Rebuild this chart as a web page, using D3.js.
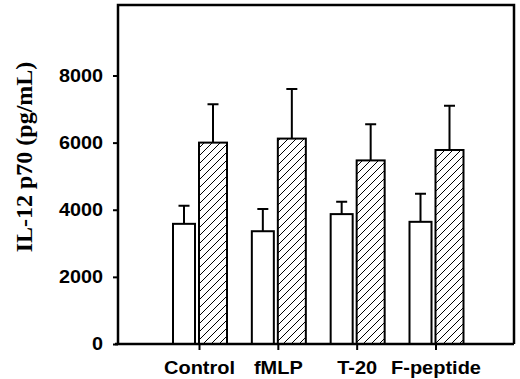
<!DOCTYPE html>
<html>
<head>
<meta charset="utf-8">
<script src="https://cdn.jsdelivr.net/npm/d3@7/dist/d3.min.js"></script>
<style>
  body { margin: 0; background: #fff; }
  svg { display: block; }
  .tick text { font-family: "Liberation Sans", Arial, sans-serif; font-weight: bold; fill: #000; }
</style>
</head>
<body>
<svg width="520" height="379"></svg>
<script>
'use strict';

// values
var categories = ["Control", "fMLP", "T-20", "F-peptide"];
var openValues = [3580, 3360, 3870, 3640];
var openErrors = [4120, 4020, 4240, 4480];
var hatchValues = [6000, 6120, 5470, 5780];
var hatchErrors = [7140, 7600, 6545, 7100];
var yTicks = [0, 2000, 4000, 6000, 8000];
var yLabel = "IL-12 p70 (pg/mL)";

var margin = {top: 5, right: 6, bottom: 35, left: 118};
var svg1 = d3.select("svg"),
    width = +svg1.attr("width") - margin.left - margin.right,
    height = +svg1.attr("height") - margin.top - margin.bottom;

var svg = svg1.append("g")
    .attr("transform", "translate(" + margin.left + "," + margin.top + ")");

var x = d3.scalePoint().domain(categories).range([81, 317.5]),
    y = d3.scaleLinear().domain([0, 10100]).range([height, 0]);

// hatch pattern
var defs = svg1.append("defs");
var pat = defs.append("pattern")
    .attr("id", "hatch")
    .attr("patternUnits", "userSpaceOnUse")
    .attr("width", 8).attr("height", 8);
pat.append("rect").attr("width", 8).attr("height", 8).attr("fill", "#fff");
pat.append("path")
    .attr("d", "M-2,2 L2,-2 M0,8 L8,0 M6,10 L10,6")
    .attr("stroke", "#000").attr("stroke-width", 1);

// series: open bars left of tick, hatched bars starting at tick
var series = [
  {values: openValues, errors: openErrors, offset: -26, w: 22, fill: "#fff"},
  {values: hatchValues, errors: hatchErrors, offset: 0, w: 28, fill: "url(#hatch)"}
];

series.forEach(function(s) {
  var data = categories.map(function(c, i) {
    return {cat: c, value: s.values[i], err: s.errors[i]};
  });

  // error bars
  svg.selectAll(null)
    .data(data)
    .enter().append("path")
    .attr("d", function(d) {
      var cx = x(d.cat) + s.offset + s.w / 2;
      return "M" + cx + "," + y(d.value) + "V" + y(d.err) +
        "M" + (cx - 5.5) + "," + y(d.err) + "H" + (cx + 5.5);
    })
    .attr("fill", "none")
    .attr("stroke", "#000")
    .attr("stroke-width", 2);

  svg.selectAll(null)
    .data(data)
    .enter().append("rect")
    .attr("x", function(d) { return x(d.cat) + s.offset; })
    .attr("y", function(d) { return y(d.value); })
    .attr("width", s.w)
    .attr("height", function(d) { return height - y(d.value); })
    .attr("fill", s.fill)
    .attr("stroke", "#000")
    .attr("stroke-width", 2);
});

// frame
svg.append("path")
  .attr("d", "M0," + height + "V0H" + width + "V" + height)
  .attr("fill", "none")
  .attr("stroke", "#000")
  .attr("stroke-width", 2.5);

var yAxis = d3.axisLeft(y)
  .tickValues(yTicks)
  .tickSize(5)
  .tickPadding(10)
  .tickFormat(d3.format("d"));

var gy = svg.append("g").call(yAxis);
gy.select(".domain").remove();
gy.selectAll("line").attr("stroke-width", 2);
gy.selectAll("text")
  .style("font-size", "18px")
  .each(function() {
    var t = d3.select(this);
    t.attr("textLength", this.getComputedTextLength() * 1.1)
     .attr("lengthAdjust", "spacingAndGlyphs");
  });

var xAxis = d3.axisBottom(x)
  .tickSize(6)
  .tickPadding(11);

var gx = svg.append("g")
  .attr("transform", "translate(0," + height + ")")
  .call(xAxis);
gx.select(".domain")
  .attr("d", "M-3,0H" + width)
  .attr("stroke-width", 2.5);
gx.selectAll("line").attr("stroke-width", 2);
gx.selectAll("text")
  .style("font-size", "18.5px")
  .each(function() {
    var t = d3.select(this);
    t.attr("textLength", this.getComputedTextLength() * 1.08)
     .attr("lengthAdjust", "spacingAndGlyphs");
  });

svg1.append("text")
  .attr("transform", "translate(32,157) rotate(-90)")
  .attr("text-anchor", "middle")
  .style("font-family", "'Liberation Serif', 'Times New Roman', serif")
  .style("font-weight", "bold")
  .style("font-size", "24px")
  .text(yLabel);
</script>
</body>
</html>
